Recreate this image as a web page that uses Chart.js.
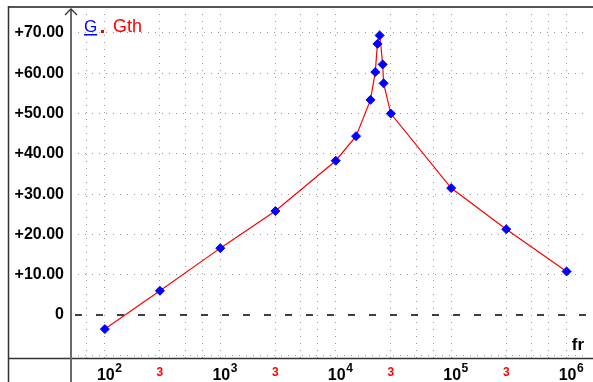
<!DOCTYPE html>
<html>
<head>
<meta charset="utf-8">
<script src="https://cdn.jsdelivr.net/npm/chart.js@4/dist/chart.umd.min.js"></script>
<style>
  html, body { margin: 0; padding: 0; background: #fff; }
  #wrap { width: 593px; height: 382px; }
</style>
</head>
<body>
<div id="wrap"><canvas id="bode" width="593" height="382"></canvas></div>
<script>
// measured gain G and theoretical gain Gth vs frequency fr
const freqHz = [100, 300, 1000, 3000, 10000, 15000, 20000, 22000, 23000, 24000, 25500, 26000, 30000, 100000, 300000, 1000000];
const gMeasured = [-3.5, 6.0, 16.6, 25.8, 38.3, 44.4, 53.4, 60.3, 67.3, 69.4, 62.2, 57.5, 50.0, 31.5, 21.3, 10.8];
const gTheory = [-3.5, 6.0, 16.6, 25.8, 38.3, 44.4, 53.4, 60.3, 67.6, 70.0, 62.2, 57.5, 50.0, 31.5, 21.3, 10.8];

const yTickValues = [-10, 0, 10, 20, 30, 40, 50, 60, 70];
const xGridValues = [70, 100, 300, 500, 700, 1000, 3000, 5000, 7000, 10000, 30000, 50000, 70000,
                     100000, 300000, 500000, 700000, 1000000];
const xLabelValues = [100, 300, 1000, 3000, 10000, 30000, 100000, 300000, 1000000];
const xLabelText = ['2', '3', '3', '3', '4', '3', '5', '3', '6']; // exponent for decades, '3' for 3x marks
const xIsDecade = [true, false, true, false, true, false, true, false, true];

const GRID = 'rgba(120,120,120,0.75)';

const framePlugin = {
    id: 'frame',
    beforeDatasetsDraw(chart) {
        const { ctx, chartArea, scales } = chart;
        const y0 = scales.y.getPixelForValue(0);
        ctx.save();
        // zero reference line
        ctx.strokeStyle = '#000';
        ctx.lineWidth = 1.5;
        ctx.setLineDash([7, 14]);
        ctx.beginPath();
        ctx.moveTo(chartArea.left + 4, y0);
        ctx.lineTo(593, y0);
        ctx.stroke();
        ctx.restore();
    },
    afterDraw(chart) {
        const { ctx, chartArea, scales } = chart;
        const left = chartArea.left, bottom = chartArea.bottom;
        ctx.save();
        // outer frame
        ctx.strokeStyle = '#555';
        ctx.lineWidth = 2;
        ctx.beginPath();
        ctx.moveTo(8, 7); ctx.lineTo(593, 7);
        ctx.stroke();
        ctx.strokeStyle = '#333';
        ctx.lineWidth = 1.5;
        ctx.beginPath();
        ctx.moveTo(8.5, 6); ctx.lineTo(8.5, 382);
        ctx.moveTo(8, bottom + 0.5); ctx.lineTo(593, bottom + 0.5);
        ctx.stroke();
        // y axis with arrow
        ctx.strokeStyle = '#6a6a6a';
        ctx.lineWidth = 2;
        ctx.beginPath();
        ctx.moveTo(left, 9); ctx.lineTo(left, 382);
        ctx.stroke();
        ctx.strokeStyle = '#333';
        ctx.lineWidth = 1.3;
        ctx.beginPath();
        ctx.moveTo(left - 6, 15); ctx.lineTo(left, 9); ctx.lineTo(left + 6, 15);
        ctx.stroke();

        // legend
        ctx.textBaseline = 'alphabetic';
        ctx.textAlign = 'left';
        ctx.font = '17px "Liberation Sans", Arial, sans-serif';
        ctx.fillStyle = '#0000ff';
        ctx.fillText('G', 84, 32);
        const gw = ctx.measureText('G').width;
        ctx.fillRect(84, 34, gw, 1.5);
        ctx.fillStyle = '#ff0000';
        ctx.fillRect(101, 30, 3, 3);
        ctx.font = '18px "Liberation Sans", Arial, sans-serif';
        ctx.fillText('Gth', 113, 32);

        // x axis labels
        const xs = scales.x;
        xLabelValues.forEach((v, i) => {
            const px = xs.getPixelForValue(v);
            if (xIsDecade[i]) {
                ctx.fillStyle = '#000';
                ctx.font = 'bold 16px "Liberation Sans", Arial, sans-serif';
                ctx.textAlign = 'center';
                const w = ctx.measureText('10').width;
                ctx.fillText('10', px + 1, 380);
                ctx.font = 'bold 12px "Liberation Sans", Arial, sans-serif';
                ctx.textAlign = 'left';
                ctx.fillText(xLabelText[i], px + 1 + w / 2 + 0.5, 372);
            } else {
                ctx.fillStyle = '#ff0000';
                ctx.font = 'bold 12px "Liberation Sans", Arial, sans-serif';
                ctx.textAlign = 'center';
                ctx.fillText(xLabelText[i], px, 376);
            }
        });
        // axis name
        ctx.fillStyle = '#000';
        ctx.font = 'bold 17px "Liberation Sans", Arial, sans-serif';
        ctx.textAlign = 'center';
        ctx.fillText('fr', 578, 350);
        ctx.restore();
    }
};

const whiteBg = {
    id: 'whiteBg',
    beforeDraw(chart) {
        const { ctx } = chart;
        ctx.save();
        ctx.fillStyle = '#fff';
        ctx.fillRect(0, 0, chart.width, chart.height);
        ctx.restore();
    }
};

new Chart(document.getElementById('bode'), {
    type: 'scatter',
    data: {
        datasets: [
            {
                label: 'G',
                data: freqHz.map((f, i) => ({ x: f, y: gMeasured[i] })),
                showLine: false,
                pointStyle: 'rectRot',
                pointRadius: 4.5,
                pointBackgroundColor: '#0000ff',
                pointBorderColor: '#0000ff',
                pointBorderWidth: 1,
                order: 0
            },
            {
                label: 'Gth',
                data: freqHz.map((f, i) => ({ x: f, y: gTheory[i] })),
                showLine: true,
                borderColor: '#ff0000',
                borderWidth: 1.2,
                pointRadius: 0,
                tension: 0,
                order: 1
            }
        ]
    },
    options: {
        responsive: false,
        devicePixelRatio: 1,
        animation: false,
        layout: { padding: { top: 7, right: 3, left: 0, bottom: 0 } },
        plugins: {
            legend: { display: false },
            tooltip: { enabled: false },
            title: { display: false }
        },
        scales: {
            x: {
                type: 'logarithmic',
                min: 50.9,
                max: 1517000,
                afterBuildTicks(scale) {
                    scale.ticks = xGridValues.map(v => ({ value: v }));
                },
                afterFit(scale) {
                    scale.height = 24;
                    scale.paddingLeft = 0; scale.paddingRight = 0;
                },
                ticks: { display: false },
                grid: { color: GRID, lineWidth: 1, drawTicks: false },
                border: { display: false, dash: [1, 6] }
            },
            y: {
                min: -10.67,
                max: 76.45,
                afterBuildTicks(scale) {
                    scale.ticks = yTickValues.map(v => ({ value: v }));
                },
                afterFit(scale) {
                    scale.width = 71;
                    scale.paddingTop = 0; scale.paddingBottom = 0;
                },
                ticks: {
                    padding: 7,
                    color: '#000',
                    font: { family: '"Liberation Sans", Arial, sans-serif', size: 16, weight: 'bold' },
                    callback(v) {
                        if (v === 0) return '0';
                        if (v < 0) return '';
                        return '+' + v.toFixed(2);
                    }
                },
                grid: {
                    color: ctx => (ctx.tick && ctx.tick.value === 0) ? 'rgba(0,0,0,0)' : GRID,
                    lineWidth: 1,
                    drawTicks: false
                },
                border: { display: false, dash: [1, 6] }
            }
        }
    },
    plugins: [whiteBg, framePlugin]
});
</script>
</body>
</html>
